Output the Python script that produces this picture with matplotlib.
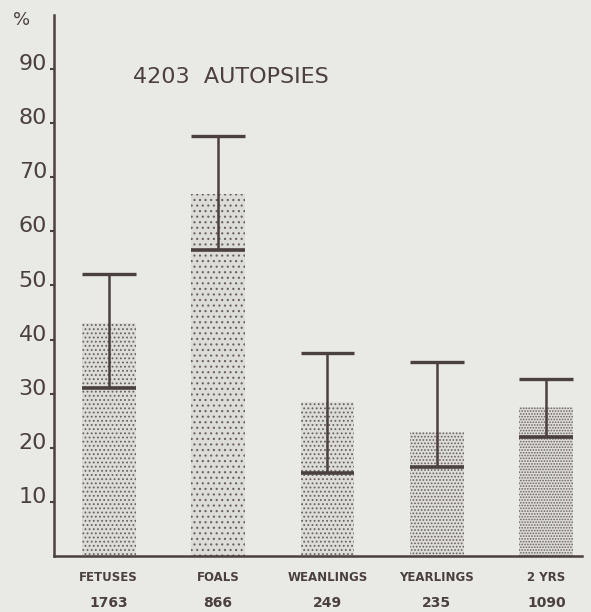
import matplotlib.pyplot as plt
import numpy as np
from matplotlib.transforms import ScaledTranslation

# values
groups = ['FETUSES', 'FOALS', 'WEANLINGS', 'YEARLINGS', '2 YRS']
counts = ['1763', '866', '249', '235', '1090']
bar_pct = [43, 67, 28.4, 23, 27.5]
low_pct = [31, 56.6, 15.3, 16.4, 22]
high_pct = [52.2, 77.7, 37.6, 35.8, 32.7]
yticks = [10, 20, 30, 40, 50, 60, 70, 80, 90]
hatches = ['....', '...', '....', '.....', '......']

ink = '#4a4040'
bg = '#e9e9e5'

fig = plt.figure(figsize=(5.91, 6.12), dpi=100, facecolor=bg)
ax = fig.add_axes([0.0914, 0.0915, 0.894, 0.884])
ax.set_facecolor(bg)

x = np.arange(len(groups))
w = 0.49
plt.rcParams['hatch.linewidth'] = 0.8
for i in range(len(groups)):
    ax.bar(x[i], bar_pct[i], width=w, color='#dcdcd8', edgecolor='#6b6060',
           hatch=hatches[i], linewidth=0)
    # T marks: lower line, stem, cap
    ax.hlines(low_pct[i], x[i] - w / 2, x[i] + w / 2, color=ink, lw=2.6)
    ax.hlines(high_pct[i], x[i] - w / 2, x[i] + w / 2, color=ink, lw=2.4)
    ax.vlines(x[i], low_pct[i], high_pct[i], color=ink, lw=1.8)

ax.set_xlim(-0.5, 4.33)
ax.set_ylim(0, 100)
for s in ['top', 'right']:
    ax.spines[s].set_visible(False)
ax.spines['left'].set_color(ink)
ax.spines['bottom'].set_color(ink)
ax.spines['left'].set_linewidth(1.8)
ax.spines['bottom'].set_linewidth(1.8)

ax.set_yticks(yticks)
ax.set_yticklabels([str(t) for t in yticks], fontsize=16, color=ink)
ax.tick_params(axis='y', length=3, width=1.5, color=ink, pad=2)
for lab in ax.get_yticklabels():
    lab.set_transform(lab.get_transform() + ScaledTranslation(0, 5 / 72, fig.dpi_scale_trans))
ax.set_xticks([])

for i in range(len(groups)):
    ax.text(x[i], -3.9, groups[i], ha='center', va='center', fontsize=8.5,
            color=ink, fontweight='bold')
    ax.text(x[i], -8.7, counts[i], ha='center', va='center', fontsize=10,
            color=ink, fontweight='bold')

fig.text(0.037, 0.967, '%', fontsize=13, color=ink, ha='center', va='center')
ax.text(1.12, 88.5, '4203  AUTOPSIES', fontsize=16, color=ink, ha='center',
        va='center')

fig.savefig('out.png', dpi=100, facecolor=bg)
